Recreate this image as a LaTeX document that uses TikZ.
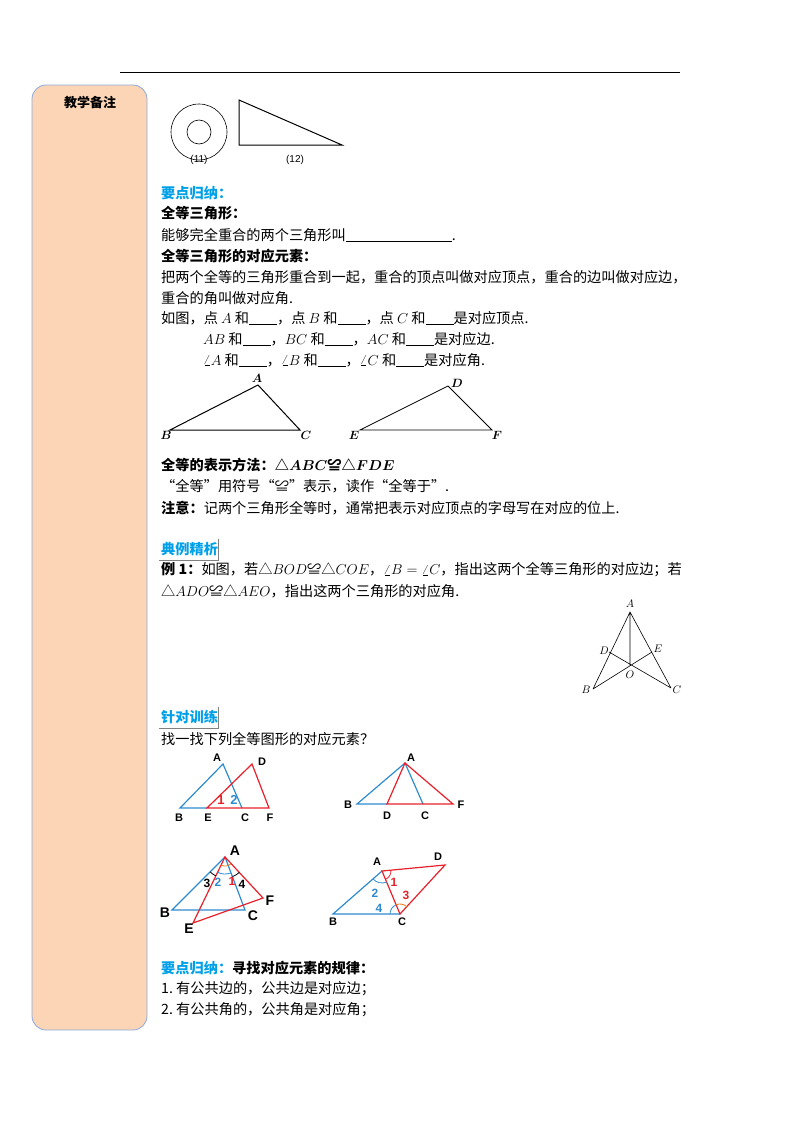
\documentclass[tikz,border=0pt]{standalone}
\usepackage{bm}
\usepackage{fontspec}
\setmainfont{Noto Sans CJK SC}
\newfontfamily\lsans{Liberation Sans}
\definecolor{peach}{HTML}{FBD5B5}
\definecolor{sideb}{HTML}{8EA9DB}
\definecolor{cyanh}{HTML}{00A0E9}
\definecolor{fblue}{HTML}{2E8BD0}
\definecolor{fred}{HTML}{E8202A}
\definecolor{forange}{HTML}{F07818}
\newcommand{\bl}[1]{\rule[-2pt]{#1pt}{0.6pt}}
\begin{document}
\begin{tikzpicture}[x=1pt,y=-1pt,
  txt/.style={anchor=west,inner sep=0pt,font=\fontsize{14.2}{16}\selectfont},
  btxt/.style={txt,font=\bfseries\fontsize{14.2}{16}\selectfont},
  lab/.style={inner sep=0pt,font=\fontsize{12}{13}\selectfont},
  slab/.style={inner sep=0pt,font=\fontsize{10.5}{11}\selectfont},
  flab/.style={inner sep=0pt,font=\lsans\bfseries\fontsize{11}{12}\selectfont},
  glab/.style={inner sep=0pt,font=\lsans\bfseries\fontsize{14}{15}\selectfont},
  arcw/.style={line width=0.8pt},
  bt/.style={fblue,line width=1.2pt},
  rt/.style={fred,line width=1.2pt}]
\useasboundingbox (0,0) rectangle (800,1132);
\draw[line width=0.8pt] (120,72) -- (680,72);
\draw[sideb,fill=peach,rounded corners=14pt,line width=0.8pt] (32,85) rectangle (147,1030);
\node[font=\bfseries\fontsize{13}{15}\selectfont] (side) at (90,103) {教学备注};
% top figures
\draw[line width=0.6pt] (199,132) circle (28);
\draw[line width=0.6pt] (199,132) circle (12);
\draw[line width=1pt] (239,100) -- (239,145) -- (342,145) -- cycle;
\node[font=\lsans\fontsize{10}{11}\selectfont] (l11) at (199,160) {(11)};
\node[font=\lsans\fontsize{10}{11}\selectfont] (l12) at (295,160) {(12)};
% text
\node[btxt,cyanh] (t1) at (161,193) {要点归纳：};
\node[btxt] (t2) at (161,213) {全等三角形：};
\node[txt] (t3) at (161,235) {能够完全重合的两个三角形叫\bl{106}.};
\node[btxt] (t4) at (161,256) {全等三角形的对应元素：};
\node[txt] (t5) at (161,277) {把两个全等的三角形重合到一起，重合的顶点叫做对应顶点，重合的边叫做对应边，};
\node[txt] (t6) at (161,298) {重合的角叫做对应角.};
\node[txt] (t7) at (161,318) {如图，点 $A$ 和\bl{28}，点 $B$ 和\bl{28}，点 $C$ 和\bl{28}是对应顶点.};
\node[txt] (t8) at (203,339) {$AB$ 和\bl{28}，$BC$ 和\bl{28}，$AC$ 和\bl{28}是对应边.};
\node[txt] (t9) at (203,360) {$\angle A$ 和\bl{28}，$\angle B$ 和\bl{28}，$\angle C$ 和\bl{28}是对应角.};
% triangles ABC, DEF
\coordinate (A1) at (258,385); \coordinate (B1) at (170,430); \coordinate (C1) at (300,430);
\draw[line width=1pt] (A1) -- (B1) -- (C1) -- cycle;
\node[lab] at (257,378) {$\bm{A}$}; \node[lab] at (166,435) {$\bm{B}$}; \node[lab] at (306,435) {$\bm{C}$};
\coordinate (D1) at (448,386); \coordinate (E1) at (360,430); \coordinate (F1) at (492,430);
\draw[line width=0.8pt] (D1) -- (E1) -- (F1) -- cycle;
\node[lab] at (457,383) {$\bm{D}$}; \node[lab] at (354,435) {$\bm{E}$}; \node[lab] at (497,435) {$\bm{F}$};
\node[btxt] (t10) at (161,465) {全等的表示方法：△$\bm{ABC}$≌△$\bm{FDE}$};
\node[txt] (t11) at (161,486) {“全等”用符号“≌”表示，读作“全等于”.};
\node[txt] (t12) at (161,508) {\textbf{注意：}记两个三角形全等时，通常把表示对应顶点的字母写在对应的位上.};
% 典例精析
\node[btxt,cyanh] (h2) at (161,549) {典例精析};
\draw[gray,line width=0.6pt] (159,560) -- (218,560) -- (218,539);
\node[txt] (t13) at (161,570) {\textbf{例 1：}如图，若△$BOD$≌△$COE$，$\angle B=\angle C$，指出这两个全等三角形的对应边；若};
\node[txt] (t14) at (161,591) {△$ADO$≌△$AEO$，指出这两个三角形的对应角.};
% figure AO
\coordinate (pA) at (630,612); \coordinate (pB) at (593,689); \coordinate (pC) at (671,688);
\coordinate (pD) at (609,652); \coordinate (pE) at (652,652); \coordinate (pO) at (630,665);
\draw[line width=0.6pt] (pB) -- (pA) -- (pC) (pA) -- (pO) (pB) -- (pE) (pC) -- (pD);
\node[slab] at (630,604) {$A$};
\node[slab] at (604,651) {$D$};
\node[slab] at (658,649) {$E$};
\node[slab] at (630,675) {$O$};
\node[slab] at (586,690) {$B$};
\node[slab] at (677,690) {$C$};
% 针对训练
\node[btxt,cyanh] (h3) at (161,717) {针对训练};
\draw[gray,line width=0.6pt] (159,728) -- (218,728) -- (218,707);
\node[txt] (t15) at (161,739) {找一找下列全等图形的对应元素？};
% fig 1
\draw[bt] (207,808) -- (180,808) -- (223,764) -- (242,808);
\draw[rt] (207,808) -- (252,764) -- (269,808) -- cycle;
\node[flab] at (217,758) {A}; \node[flab] at (179,818) {B}; \node[flab] at (208,818) {E};
\node[flab] at (245,818) {C}; \node[flab] at (262,762) {D}; \node[flab] at (270,818) {F};
\node[flab,fred,font=\lsans\bfseries\fontsize{13}{13}\selectfont] at (221,800) {1};
\node[flab,fblue,font=\lsans\bfseries\fontsize{13}{13}\selectfont] at (234,800) {2};
% fig 2
\draw[bt] (387,804) -- (357,804) -- (405,763) -- (423,804);
\draw[rt] (387,804) -- (405,763) -- (453,804) -- cycle;
\node[flab] at (411,758) {A}; \node[flab] at (348,805) {B}; \node[flab] at (387,816) {D};
\node[flab] at (425,816) {C}; \node[flab] at (461,805) {F};
% fig 3
\coordinate (A3) at (225,857);
\draw[bt] (A3) -- (172,910) -- (245,910) -- cycle;
\draw[rt] (A3) -- (193,923) -- (263,898) -- cycle;
\draw[fblue,arcw] (A3) ++(69:17) arc[start angle=69,end angle=116,radius=17];
\draw[forange,arcw] (A3) ++(47:9) arc[start angle=47,end angle=116,radius=9];
\draw[arcw] (A3) ++(116:21) arc[start angle=116,end angle=135,radius=21];
\draw[arcw] (A3) ++(47:21) arc[start angle=47,end angle=69,radius=21];
\node[glab] at (235,851) {A};
\node[flab,font=\lsans\bfseries\fontsize{12}{13}\selectfont] at (207,883) {3};
\node[flab,fblue,font=\lsans\bfseries\fontsize{12}{13}\selectfont] at (218,882) {2};
\node[flab,fred,font=\lsans\bfseries\fontsize{12}{13}\selectfont] at (232,881) {1};
\node[flab,font=\lsans\bfseries\fontsize{12}{13}\selectfont] at (242,884) {4};
\node[glab] at (165,913) {B};
\node[glab] at (253,916) {C};
\node[glab] at (189,929) {E};
\node[glab] at (270,901) {F};
% fig 4
\coordinate (A4) at (382,871); \coordinate (C4) at (400,914);
\draw[bt] (A4) -- (333,914) -- (C4);
\draw[rt] (A4) -- (445,865) -- (C4) -- cycle;
\draw[fblue,arcw] (A4) ++(67:12) arc[start angle=67,end angle=139,radius=12];
\draw[fred,arcw] (A4) ++(-5:9) arc[start angle=-5,end angle=67,radius=9];
\draw[fblue,arcw] (C4) ++(180:10) arc[start angle=180,end angle=247,radius=10];
\draw[forange,arcw] (C4) ++(247:10) arc[start angle=247,end angle=313,radius=10];
\node[flab] at (377,862) {A}; \node[flab] at (438,857) {D};
\node[flab] at (333,922) {B}; \node[flab] at (402,922) {C};
\node[flab,fred,font=\lsans\bfseries\fontsize{12}{13}\selectfont] at (394,882) {1};
\node[flab,fblue,font=\lsans\bfseries\fontsize{12}{13}\selectfont] at (375,893) {2};
\node[flab,fred,font=\lsans\bfseries\fontsize{12}{13}\selectfont] at (406,895) {3};
\node[flab,fblue,font=\lsans\bfseries\fontsize{12}{13}\selectfont] at (379,908) {4};
% bottom
\node[txt] (t16) at (161,968) {\textbf{\color{cyanh}要点归纳：}\textbf{寻找对应元素的规律：}};
\node[txt] (t17) at (161,989) {1.\ 有公共边的，公共边是对应边；};
\node[txt] (t18) at (161,1010) {2.\ 有公共角的，公共角是对应角；};
\end{tikzpicture}
\end{document}
